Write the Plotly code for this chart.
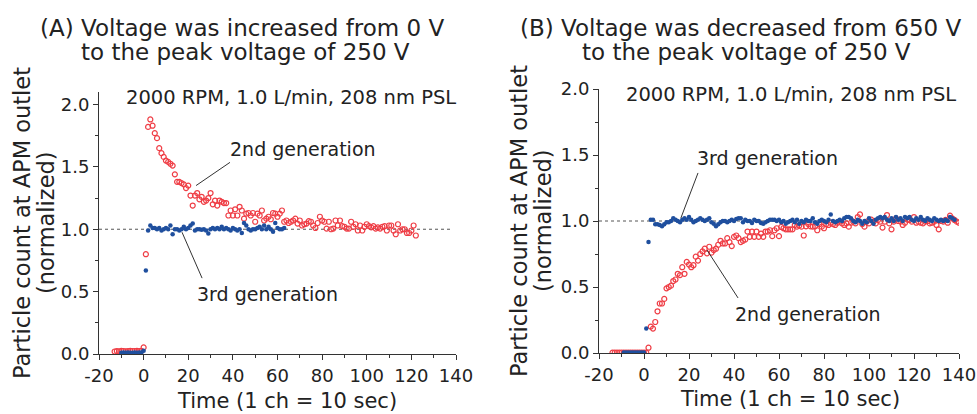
import plotly.graph_objects as go

# ---------------- data ----------------
# Panel A: voltage increased from 0 V to 250 V
a_red_base = [0.02, 0.024, 0.022, 0.025, 0.024, 0.022, 0.024, 0.025, 0.024, 0.024, 0.025, 0.024, 0.025, 0.053]  # x=-13..0
a_red_rise = [0.80]  # x=1
a_red_decay = [1.82, 1.88, 1.83, 1.77, 1.73, 1.65, 1.61, 1.58, 1.55, 1.54, 1.525, 1.51, 1.44, 1.38, 1.38, 1.37,
               1.36, 1.33, 1.35, 1.27, 1.19, 1.27, 1.29, 1.24, 1.26, 1.22, 1.23, 1.25, 1.29, 1.20, 1.23, 1.19,
               1.23, 1.22, 1.21, 1.21, 1.11, 1.15, 1.11, 1.16, 1.11, 1.18, 1.15, 1.085, 1.125, 1.13, 1.11, 1.13,
               1.06, 1.125, 1.11, 1.15, 1.07, 1.085, 1.10, 1.08, 1.13, 1.125, 1.10, 1.125, 1.15, 1.06, 1.07, 1.05,
               1.06, 1.07, 1.085, 1.045, 1.07, 1.03, 1.04, 1.045, 1.065, 1.06, 1.03, 1.01, 1.05, 1.10, 1.07, 1.06,
               1.005, 1.06, 1.0, 1.005, 1.07, 1.03, 1.07, 1.025, 1.02, 1.005, 1.005, 1.06, 1.02, 1.04, 0.99, 1.03,
               0.99, 1.02, 1.04, 1.025, 1.015, 1.025, 1.005, 1.015, 1.005, 1.02, 1.025, 0.99, 1.03, 1.03, 0.99,
               0.96, 1.04, 0.99, 1.0, 1.0, 0.97, 0.97, 0.99, 1.03, 0.95]  # x=2..
a_blue_base = [0.01, 0.012, 0.01, 0.012, 0.011, 0.01, 0.012, 0.011, 0.012, 0.013, 0.027]  # x=-10..0
a_blue_rise = [0.67]  # x=1
a_blue_flat = [0.99, 1.03, 1.01, 1.01, 1.0, 1.01, 0.99, 1.0, 1.01, 1.0, 1.03, 0.96, 1.0, 1.0, 0.99, 1.0,
               1.02, 1.0, 1.01, 1.03, 1.045, 0.99, 1.0, 1.0, 0.995, 1.0, 0.99, 0.965, 1.0, 1.01, 1.0, 1.01,
               1.0, 1.02, 1.0, 1.01, 1.0, 0.99, 1.01, 1.0, 0.99, 1.0, 0.97, 1.05, 1.03, 1.0, 0.99, 1.0,
               1.0, 1.01, 1.02, 1.0, 1.03, 1.0, 1.02, 1.0, 0.98, 1.05, 1.01, 1.0, 1.0, 1.01]  # x=2..

# Panel B: voltage decreased from 650 V to 250 V
b_red_base = [0.003] * 15  # x=-14..0
b_red_rise1 = [0.003, 0.04]  # x=1..2
b_red_rise = [0.20, 0.185, 0.235, 0.316, 0.375, 0.375, 0.41, 0.49, 0.50, 0.51,
              0.545, 0.557, 0.60, 0.59, 0.65, 0.60, 0.69, 0.67, 0.65, 0.665,
              0.73, 0.70, 0.75, 0.77, 0.79, 0.755, 0.805, 0.76, 0.78, 0.79,
              0.82, 0.85, 0.83, 0.83, 0.87, 0.84, 0.81, 0.88, 0.89, 0.87,
              0.84, 0.85, 0.86, 0.92, 0.88, 0.92, 0.88, 0.92, 0.88, 0.905,
              0.88, 0.92, 0.92, 0.93, 0.885, 0.93, 0.945, 0.885, 0.955, 0.945,
              0.937, 0.937, 0.937, 0.937, 0.97, 0.957, 0.965, 0.957, 0.89,
              0.96, 0.977, 0.96, 0.957, 0.96, 0.93, 0.977, 0.957, 0.945, 0.977,
              0.97, 0.987, 0.977, 0.97, 0.987, 0.995, 0.982, 0.97, 0.982, 0.957,
              0.987, 0.995, 0.982, 1.03, 1.05, 0.977, 0.957, 0.995, 0.982, 1.01,
              0.995, 0.982, 1.008, 0.995, 0.95, 0.995, 1.045, 0.982, 0.937, 0.995,
              1.02, 1.0, 0.995, 0.97, 0.987, 1.01, 1.008, 0.995, 1.03, 0.987,
              0.995, 0.987, 0.982, 0.995, 1.0, 0.982, 0.987, 0.995, 0.97,
              0.937, 1.0, 0.995, 1.008, 0.987, 1.04, 1.02, 1.008, 0.995, 0.987]  # x=3..
b_blue_base = [0.003] * 10  # x=-9..0
b_blue_rise = [0.185, 0.84]  # x=1..2
b_blue_flat = [1.01, 1.01, 0.975, 0.975, 0.97, 0.96, 0.975, 0.99, 0.99, 1.0,
               1.02, 1.01, 1.0, 0.99, 1.01, 1.02, 1.01, 1.03, 1.01, 0.99,
               1.0, 1.01, 1.02, 1.01, 1.0, 1.01, 1.02, 0.99, 0.98, 0.96,
               0.975, 0.99, 1.0, 1.0, 0.99, 1.0, 1.01, 1.0, 1.015, 1.02,
               1.02, 0.99, 1.01, 1.0, 1.0, 0.985, 1.01, 1.0, 1.0, 0.985,
               0.98, 0.99, 1.0, 1.01, 1.01, 1.01, 1.0, 1.01, 0.99, 1.0,
               0.98, 0.99, 1.0, 1.01, 0.99, 1.01, 0.98, 1.0, 0.99, 1.01,
               1.0, 1.0, 1.02, 0.99, 0.98, 1.0, 1.01, 1.0, 0.99, 1.01,
               1.05, 1.0, 0.99, 1.0, 1.01, 1.0, 1.02, 1.03, 1.03, 1.02,
               1.0, 0.99, 1.01, 1.0, 0.98, 1.0, 0.99, 1.02, 1.0, 0.98,
               1.01, 1.02, 1.03, 1.02, 1.03, 1.01, 1.0, 1.02, 1.0, 1.03,
               1.01, 1.02, 1.0, 1.03, 1.02, 1.03, 1.01, 1.0, 1.02, 1.01,
               1.03, 1.01, 1.0, 1.02, 1.01, 1.0, 1.02, 1.01, 1.0,
               1.01, 1.0, 1.01, 1.0, 1.03, 1.02, 1.01]  # x=3..

x_ticks = [-20, 0, 20, 40, 60, 80, 100, 120, 140]
x_tick_labels = ["-20", "0", "20", "40", "60", "80", "100", "120", "140"]
y_ticks = [0.0, 0.5, 1.0, 1.5, 2.0]
y_tick_labels = ["0.0", "0.5", "1.0", "1.5", "2.0"]

title_a = ["(A) Voltage was increased from 0 V", "to the peak voltage of 250 V"]
title_b = ["(B) Voltage was decreased from 650 V", "to the peak voltage of 250 V"]
condition = "2000 RPM, 1.0 L/min, 208 nm PSL"
x_title = "Time (1 ch = 10 sec)"
y_title = ["Particle count at APM outlet", "(normalized)"]
label_2nd = "2nd generation"
label_3rd = "3rd generation"


def seq(start, *parts):
    ys = []
    for p in parts:
        ys.extend(p)
    return list(range(start, start + len(ys))), ys


ax_red_x, ax_red_y = seq(-13, a_red_base, a_red_rise, a_red_decay)
ax_blue_x, ax_blue_y = seq(-10, a_blue_base, a_blue_rise, a_blue_flat)
bx_red_x, bx_red_y = seq(-14, b_red_base, b_red_rise1, b_red_rise)
bx_blue_x, bx_blue_y = seq(-9, b_blue_base, b_blue_rise, b_blue_flat)

RED = "#ef3d45"
BLUE = "#1f4f9e"
FONT = "DejaVu Sans"
TXT = "#222222"

W, H = 977, 414


def px(v):
    return v / W


def py(v):
    return 1 - v / H


fig = go.Figure()

red_marker = dict(symbol="circle-open", size=5, color=RED, line=dict(width=1.2, color=RED))
blue_marker = dict(symbol="circle", size=4.5, color=BLUE)

fig.add_trace(go.Scatter(x=ax_red_x, y=ax_red_y, mode="markers", marker=red_marker, xaxis="x", yaxis="y", showlegend=False))
fig.add_trace(go.Scatter(x=ax_blue_x, y=ax_blue_y, mode="markers", marker=blue_marker, xaxis="x", yaxis="y", showlegend=False))
fig.add_trace(go.Scatter(x=bx_red_x, y=bx_red_y, mode="markers", marker=red_marker, xaxis="x2", yaxis="y2", showlegend=False))
fig.add_trace(go.Scatter(x=bx_blue_x, y=bx_blue_y, mode="markers", marker=blue_marker, xaxis="x2", yaxis="y2", showlegend=False))

tickfont = dict(family=FONT, size=18, color=TXT)
common_x = dict(range=[-20, 140], tickmode="array", tickvals=x_ticks, ticktext=x_tick_labels,
                ticks="outside", ticklen=5,
                tickcolor="#333", showline=True, linecolor="#333", linewidth=1, showgrid=False,
                zeroline=False, tickfont=tickfont, automargin=False,
                minor=dict(dtick=10, ticks="outside", ticklen=3, tickcolor="#333", showgrid=False))
common_y = dict(tickmode="array", tickvals=y_ticks, ticktext=y_tick_labels, ticks="outside", ticklen=5,
                tickcolor="#333", showline=True, linecolor="#333", linewidth=1, showgrid=False,
                zeroline=False, tickfont=tickfont, automargin=False,
                minor=dict(dtick=0.25, ticks="outside", ticklen=3, tickcolor="#333", showgrid=False))

fig.update_layout(
    width=W, height=H,
    margin=dict(l=0, r=0, t=0, b=0),
    paper_bgcolor="white", plot_bgcolor="white",
    font=dict(family=FONT, color=TXT),
    xaxis=dict(domain=[px(99), px(456)], anchor="y", **common_x),
    yaxis=dict(domain=[py(354), py(92)], anchor="x", range=[0, 2.1], **common_y),
    xaxis2=dict(domain=[px(599), px(959)], anchor="y2", **common_x),
    yaxis2=dict(domain=[py(353), py(89)], anchor="x2", range=[0, 2.0], **common_y),
)

# dashed reference lines at 1.0
fig.add_shape(type="line", xref="x", yref="y", x0=-20, x1=137.5, y0=1.0, y1=1.0,
              line=dict(color="#555", width=1, dash="3px,3px"), layer="below")
fig.add_shape(type="line", xref="x2", yref="y2", x0=-20, x1=140, y0=1.0, y1=1.0,
              line=dict(color="#555", width=1, dash="3px,3px"), layer="below")

# leader lines
lead = dict(color="#333", width=1)
fig.add_shape(type="line", xref="x", yref="y", x0=38.7, y0=1.536, x1=23.5, y1=1.35, line=lead)
fig.add_shape(type="line", xref="x", yref="y", x0=26.2, y0=0.608, x1=17.2, y1=0.976, line=lead)
fig.add_shape(type="line", xref="x2", yref="y2", x0=24.0, y0=1.364, x1=16.4, y1=1.023, line=lead)
fig.add_shape(type="line", xref="x2", yref="y2", x0=41.8, y0=0.417, x1=28.0, y1=0.78, line=lead)

ann = []


def text(xp, yp, s, size, xanchor="center", angle=0):
    ann.append(dict(x=px(xp), y=py(yp), xref="paper", yref="paper", text=s, showarrow=False,
                    xanchor=xanchor, yanchor="middle", textangle=angle,
                    font=dict(family=FONT, size=size, color=TXT)))


# titles
text(38, 28, title_a[0], 23, xanchor="left")
text(79, 52, title_a[1], 23, xanchor="left")
text(518, 28, title_b[0], 23, xanchor="left")
text(580, 52, title_b[1], 23, xanchor="left")

# condition text
text(291, 97, condition, 19.5)
text(791, 94, condition, 19.5)

# series labels
text(303, 149, label_2nd, 19)
text(267, 294, label_3rd, 19)
text(767, 158, label_3rd, 19)
text(808, 314, label_2nd, 19)

# axis titles
text(287, 401, x_title, 21)
text(790, 399, x_title, 21)
text(22, 223, y_title[0], 22.5, angle=-90)
text(46, 223, y_title[1], 22.5, angle=-90)
text(519, 221, y_title[0], 22.5, angle=-90)
text(543, 221, y_title[1], 22.5, angle=-90)

fig.update_layout(annotations=ann)

fig.write_html("out.html", config={"displayModeBar": False},
               post_script="document.body.style.margin='0';document.body.style.overflow='hidden';")
